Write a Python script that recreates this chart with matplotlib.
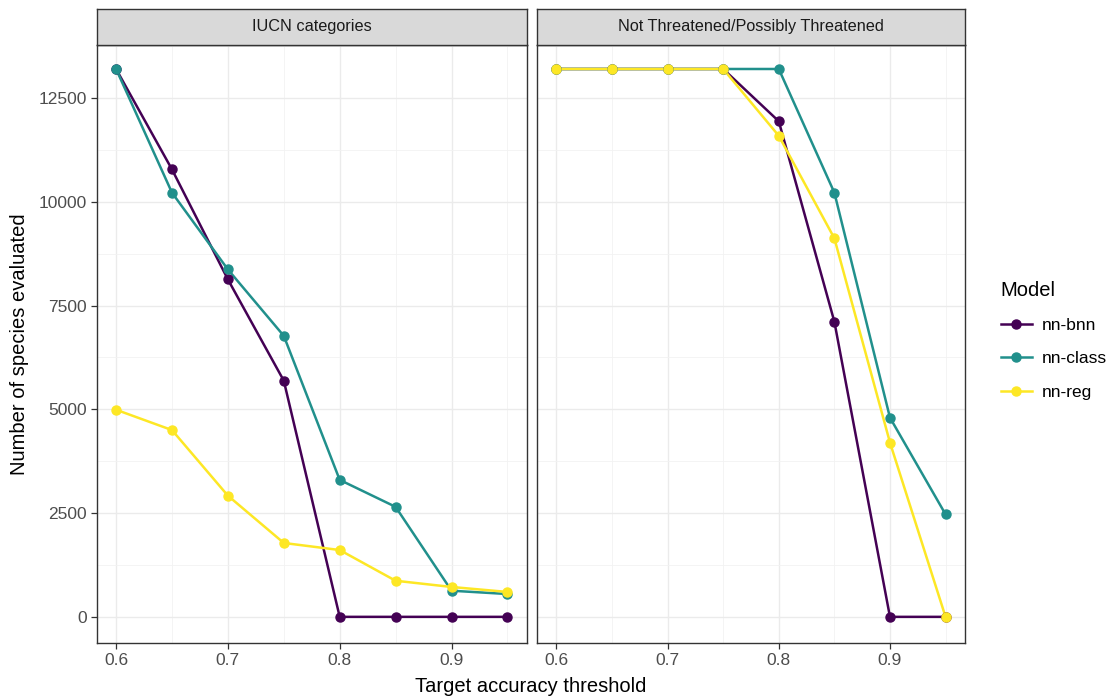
import numpy as np
import matplotlib.pyplot as plt
from matplotlib.ticker import MultipleLocator

plt.rcParams['font.family'] = ['Liberation Sans', 'DejaVu Sans']

# data
thresholds = [0.6, 0.65, 0.7, 0.75, 0.8, 0.85, 0.9, 0.95]
models = ['nn-bnn', 'nn-class', 'nn-reg']
colors = {'nn-bnn': '#440154', 'nn-class': '#21908C', 'nn-reg': '#FDE725'}
panels = ['IUCN categories', 'Not Threatened/Possibly Threatened']

iucn_bnn = [13200, 10780, 8130, 5690, 0, 0, 0, 0]
iucn_class = [13200, 10220, 8370, 6770, 3300, 2650, 630, 550]
iucn_reg = [4990, 4500, 2920, 1780, 1610, 870, 720, 600]

nt_bnn = [13200, 13200, 13200, 13200, 11940, 7110, 0, 0]
nt_class = [13200, 13200, 13200, 13200, 13200, 10220, 4800, 2470]
nt_reg = [13200, 13200, 13200, 13200, 11590, 9120, 4200, 0]

data = {
    panels[0]: {'nn-bnn': iucn_bnn, 'nn-class': iucn_class, 'nn-reg': iucn_reg},
    panels[1]: {'nn-bnn': nt_bnn, 'nn-class': nt_class, 'nn-reg': nt_reg},
}

W, H = 1120, 700
fig = plt.figure(figsize=(W / 100, H / 100), dpi=100)

# panel boxes in pixels (left, right), shared top/bottom
panel_x = [(96.5, 527), (537, 965)]
top, bottom = 44.5, 643
strip_h = 35.5

xlim = (0.5825, 0.9675)
ylim = (-630, 13790)

axes = []
for i, name in enumerate(panels):
    x0, x1 = panel_x[i]
    ax = fig.add_axes([x0 / W, 1 - bottom / H, (x1 - x0) / W, (bottom - top) / H])
    for m in models:
        ax.plot(thresholds, data[name][m], color=colors[m], lw=1.8, zorder=3)
    for m in models:
        ax.plot(thresholds, data[name][m], 'o', color=colors[m], ms=6.5, zorder=4)
    ax.set_xlim(*xlim)
    ax.set_ylim(*ylim)
    ax.xaxis.set_minor_locator(MultipleLocator(0.05))
    ax.yaxis.set_major_locator(MultipleLocator(2500))
    ax.yaxis.set_minor_locator(MultipleLocator(1250))
    ax.set_xticks([0.6, 0.7, 0.8, 0.9])
    ax.set_xticklabels(['0.6', '0.7', '0.8', '0.9'])
    ax.grid(which='major', color='#EBEBEB', lw=1.0, zorder=0)
    ax.grid(which='minor', color='#F2F2F2', lw=0.6, zorder=0)
    ax.set_axisbelow(True)
    for s in ax.spines.values():
        s.set_color('#333333')
        s.set_linewidth(1.0)
    ax.tick_params(which='major', length=4, width=0.9, color='#333333',
                   labelsize=12.5, labelcolor='#4D4D4D', pad=3)
    ax.tick_params(which='minor', length=0)
    if i > 0:
        ax.tick_params(axis='y', left=False, labelleft=False)
    axes.append(ax)

    # facet strip
    sax = fig.add_axes([x0 / W, 1 - top / H, (x1 - x0) / W, strip_h / H])
    sax.set_facecolor('#D9D9D9')
    sax.set_xticks([])
    sax.set_yticks([])
    for s in sax.spines.values():
        s.set_color('#333333')
        s.set_linewidth(1.0)
    sax.text(0.5, 0.5, name, ha='center', va='center', fontsize=11.7,
             color='#1A1A1A', transform=sax.transAxes)

fig.text((96.5 + 965) / 2 / W, 1 - 686 / H, 'Target accuracy threshold',
         ha='center', va='center', fontsize=14.5)
fig.text(20 / W, 1 - ((top + bottom) / 2) / H, 'Number of species evaluated',
         ha='center', va='center', rotation=90, fontsize=14.5)

handles = [plt.Line2D([], [], color=colors[m], lw=1.8, marker='o', ms=6.5) for m in models]
leg = fig.legend(handles, models, title='Model', loc='upper left',
                 bbox_to_anchor=(985 / W, 1 - 265 / H), frameon=False,
                 fontsize=12.5, title_fontsize=14.5, handlelength=1.8,
                 labelspacing=1.05, handletextpad=0.6)
leg._legend_box.align = 'left'

fig.savefig('out.png', dpi=100)
